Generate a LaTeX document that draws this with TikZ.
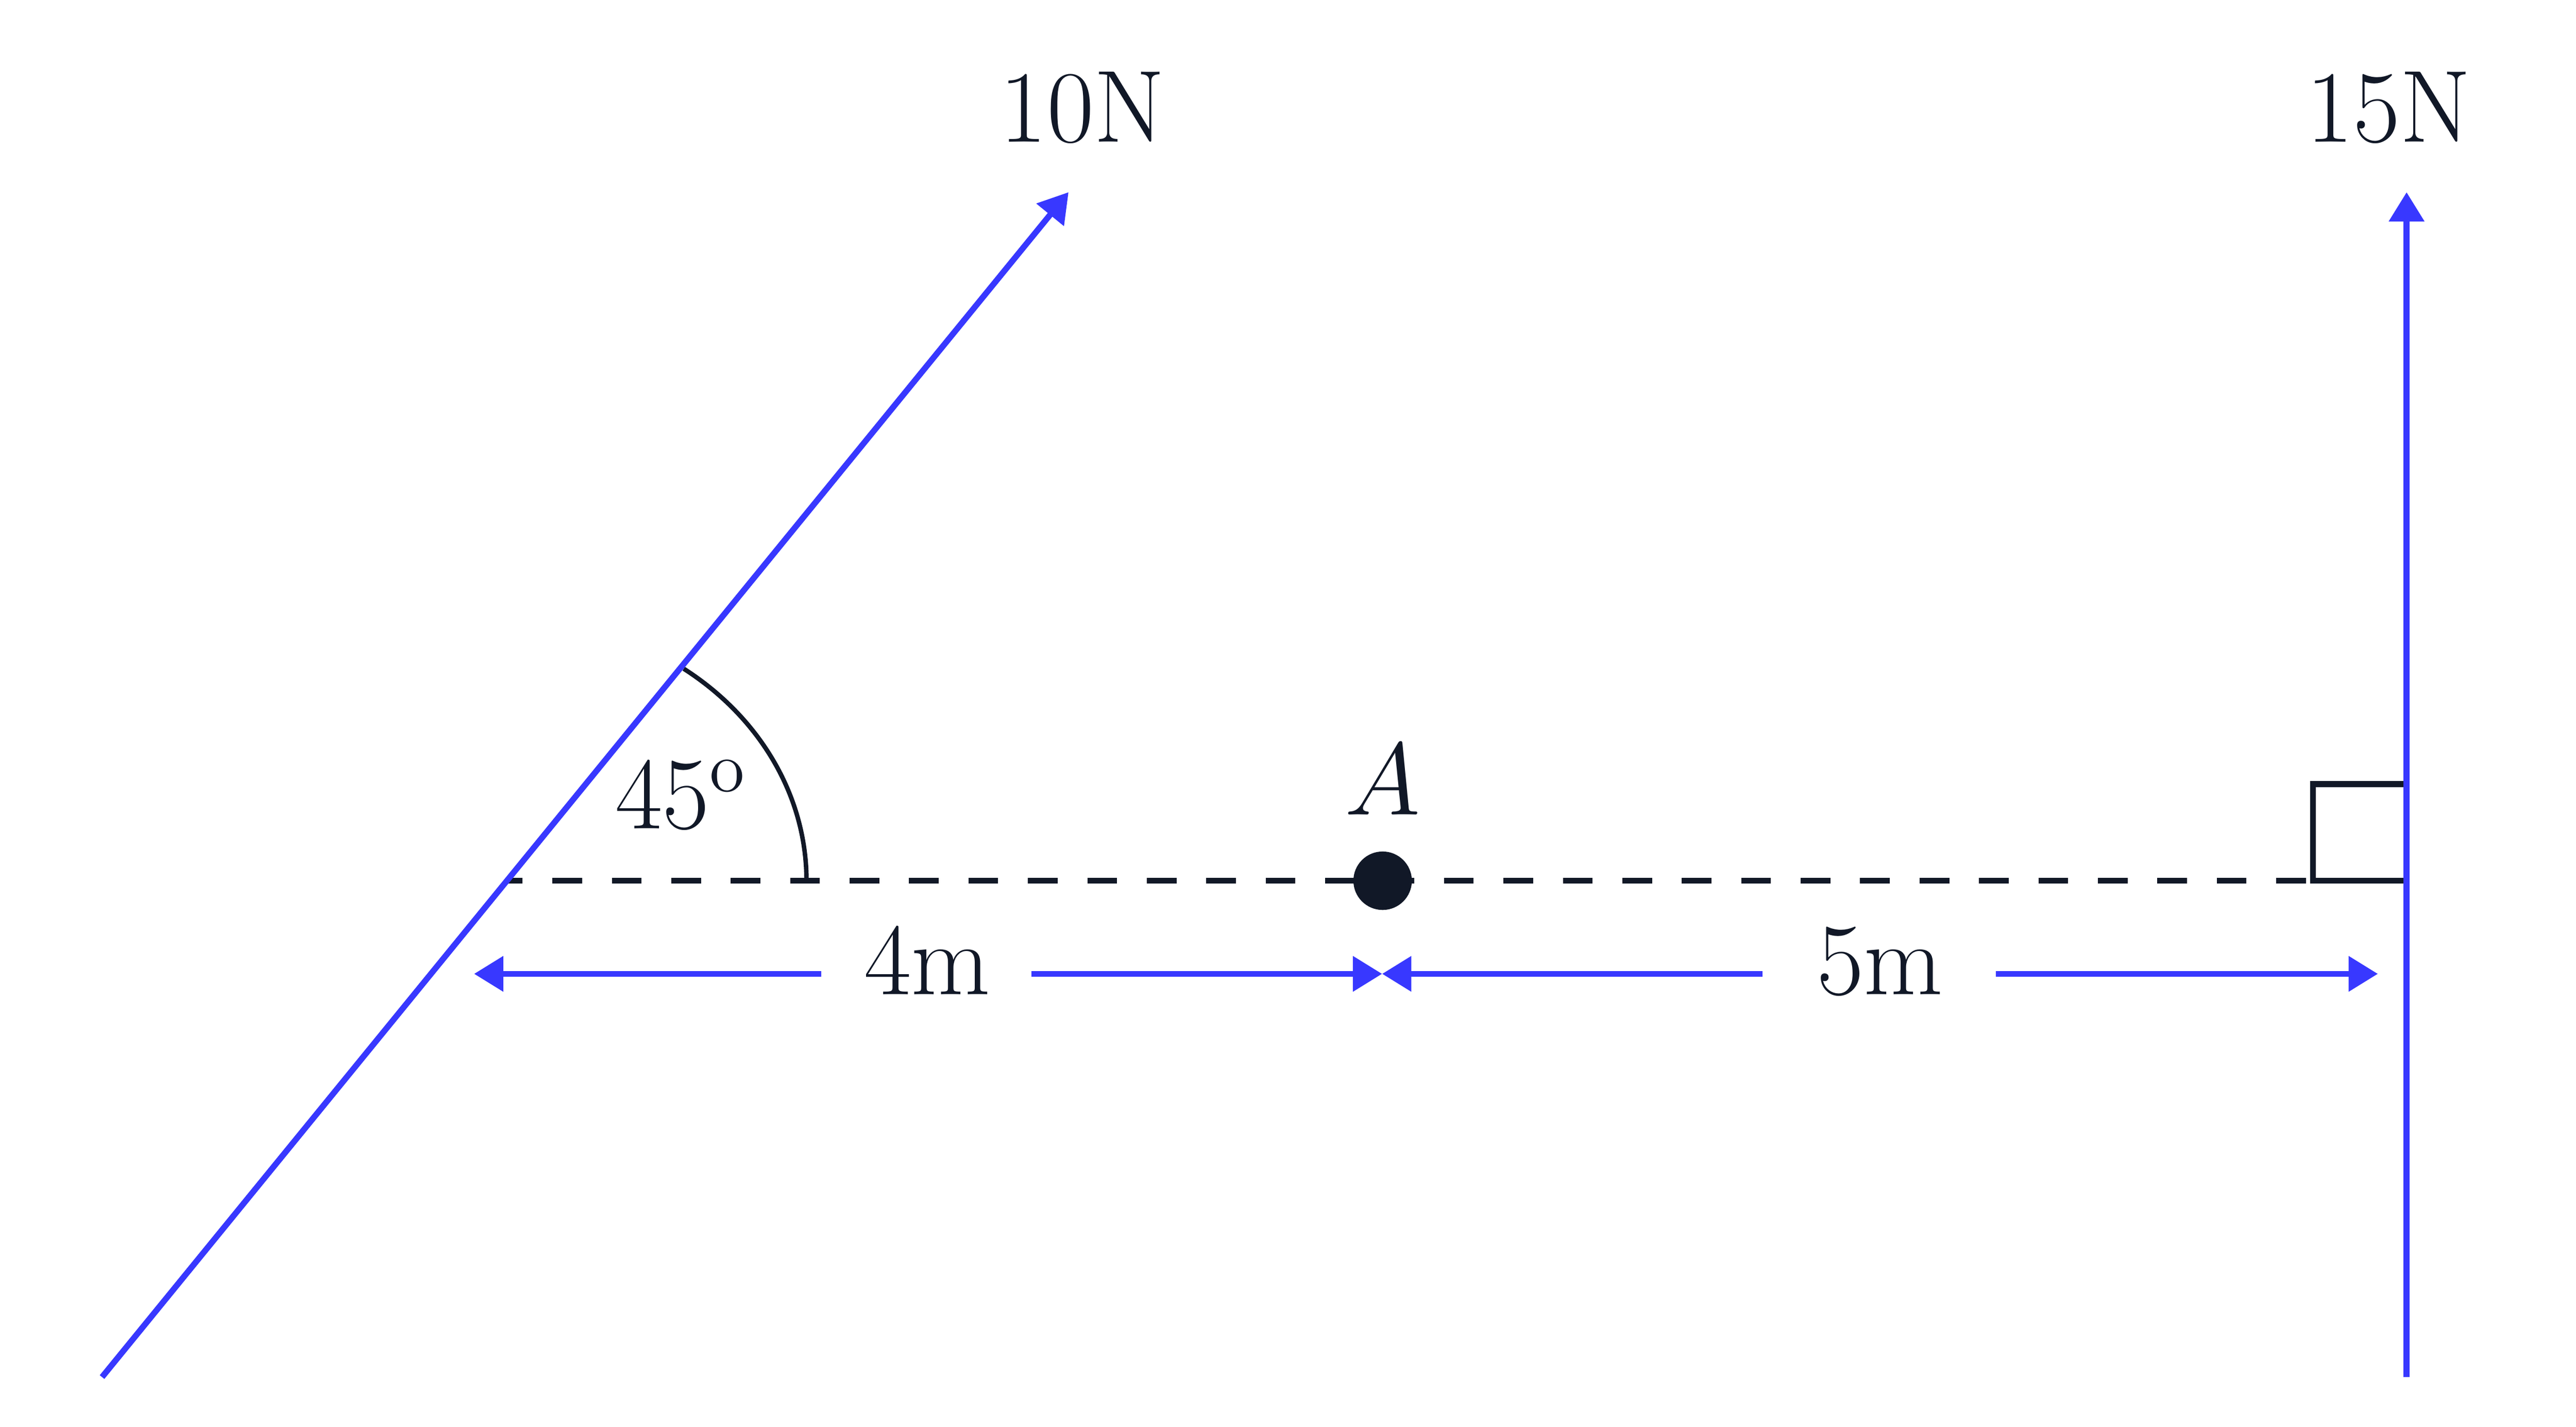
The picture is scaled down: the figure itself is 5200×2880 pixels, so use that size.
\documentclass[tikz,border=0pt]{standalone}
\usetikzlibrary{arrows.meta}
\definecolor{ink}{RGB}{17,24,39}
\definecolor{force}{RGB}{56,56,255}
\begin{document}
\begin{tikzpicture}[x=0.1pt,y=-0.1pt,
  forceline/.style={draw=force,line width=1.2pt,-{Triangle[length=5.9pt,width=6.9pt]}},
  dimline/.style={draw=force,line width=1.2pt,-{Triangle[length=5.9pt,width=6.9pt]}},
  guide/.style={draw=ink,line width=1.2pt,dash pattern=on 6pt off 6pt,dash phase=3pt},
  inkline/.style={draw=ink,line width=1.2pt,line join=miter},
  lbl/.style={text=ink,inner sep=0pt,anchor=base,font=\fontsize{20.7}{25}\selectfont}]
\useasboundingbox (0,0) rectangle (5200,2880);
% coordinates
\coordinate (Fbot) at (206,2780);
\coordinate (Ftip) at (2157,388);
\coordinate (Vbot) at (4858,2780);
\coordinate (Vtip) at (4858,388);
\coordinate (Dstart) at (1025,1778);
\coordinate (Dend) at (4669,1778);
\coordinate (SqA) at (4858,1583);
\coordinate (SqB) at (4669,1583);
\coordinate (SqC) at (4858,1778);
\coordinate (ArcStart) at (1628,1778);
\coordinate (L1) at (957,1966);
\coordinate (G1) at (1658,1966);
\coordinate (G2) at (2082,1966);
\coordinate (M) at (2790,1966);
\coordinate (G3) at (3558,1966);
\coordinate (G4) at (4029,1966);
\coordinate (R1) at (4800,1966);
% reference line
\draw[guide] (Dstart) -- (Dend);
% right-angle mark
\draw[inkline] (SqA) -- (SqB) -- (Dend) -- (SqC);
% angle arc
\draw[draw=ink,line width=0.9pt] (ArcStart) arc[start angle=0,end angle=54,x radius=60.1pt,y radius=52.9pt];
% point A
\node[circle,fill=ink,minimum size=11.8pt,inner sep=0pt] (A) at (2791,1778) {};
% forces
\draw[forceline] (Fbot) -- (Ftip);
\draw[forceline] (Vbot) -- (Vtip);
% dimensions
\draw[dimline] (G1) -- (L1);
\draw[dimline] (G2) -- (M);
\draw[dimline] (G3) -- (M);
\draw[dimline] (G4) -- (R1);
% labels
\node[lbl] (t10) at (2185,287) {10N};
\node[lbl] (t15) at (4822,287) {15N};
\node[lbl] (tA) at (2791,1645) {$A$};
\node[lbl] (t45) at (1375,1673) {$45^{\mathrm{o}}$};
\node[lbl] (t4) at (1872,2008) {4m};
\node[lbl] (t5) at (3795,2008) {5m};
\end{tikzpicture}
\end{document}
